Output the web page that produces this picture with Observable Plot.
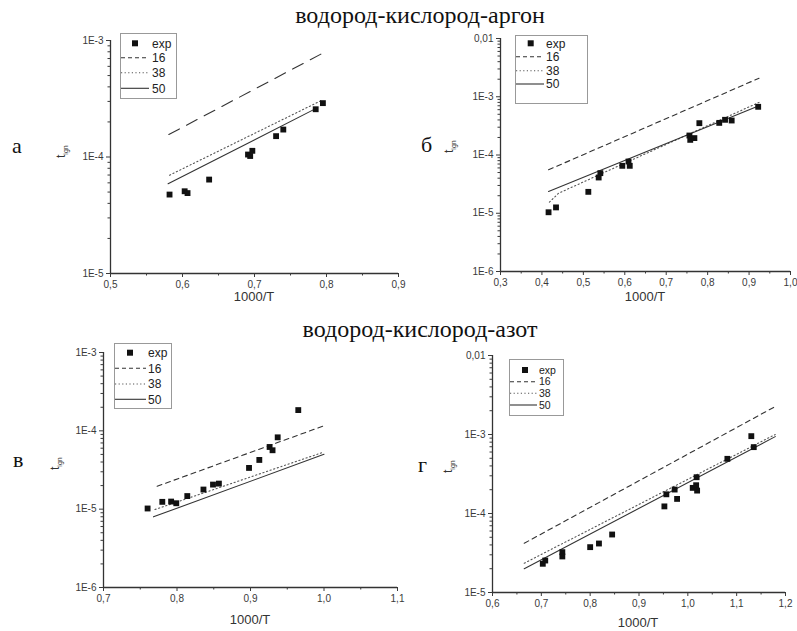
<!DOCTYPE html>
<html><head><meta charset="utf-8">
<script src="https://cdn.jsdelivr.net/npm/d3@7"></script>
<script src="https://cdn.jsdelivr.net/npm/@observablehq/plot@0.6"></script>
<style>
body{margin:0;background:#fff;}
#root{position:relative;width:797px;height:631px;overflow:hidden;background:#fff;}
#root svg{overflow:visible;}
</style>
</head><body>
<div id="root"></div>
<script>
// ---------- Panel а : водород-кислород-аргон ----------
const aExpX = [0.582,0.603,0.607,0.637,0.691,0.694,0.697,0.730,0.740,0.785,0.795];
const aExpY = [4.76e-5,5.08e-5,4.9e-5,6.4e-5,1.05e-4,1.02e-4,1.13e-4,1.51e-4,1.72e-4,2.57e-4,2.9e-4];
const a16X = [0.581,0.795], a16Y = [1.56e-4,7.8e-4];
const a38X = [0.582,0.795], a38Y = [6.98e-5,3.1e-4];
const a50X = [0.580,0.787], a50Y = [5.89e-5,2.64e-4];
const aXTicks = [0.5,0.6,0.7,0.8,0.9], aXLabels = ["0,5","0,6","0,7","0,8","0,9"];
const aYTicks = [1e-5,1e-4,1e-3], aYLabels = ["1E-5","1E-4","1E-3"];

// ---------- Panel б : водород-кислород-аргон ----------
const bExpX = [0.416,0.434,0.512,0.537,0.541,0.594,0.609,0.612,0.756,0.758,0.768,0.780,0.828,0.842,0.858,0.922];
const bExpY = [1.04e-5,1.26e-5,2.33e-5,4.11e-5,4.88e-5,6.52e-5,7.73e-5,6.52e-5,2.16e-4,1.82e-4,1.95e-4,3.52e-4,3.56e-4,4.02e-4,3.91e-4,6.72e-4];
const b16X = [0.416,0.924], b16Y = [5.57e-5,2.08e-3];
const b38X = [0.418,0.44,0.55,0.924], b38Y = [1.55e-5,2.2e-5,5.0e-5,8.0e-4];
const b50X = [0.416,0.924], b50Y = [2.36e-5,7.0e-4];
const bXTicks = [0.3,0.4,0.5,0.6,0.7,0.8,0.9,1.0], bXLabels = ["0,3","0,4","0,5","0,6","0,7","0,8","0,9","1,0"];
const bYTicks = [1e-6,1e-5,1e-4,1e-3,1e-2], bYLabels = ["1E-6","1E-5","1E-4","1E-3","0,01"];

// ---------- Panel в : водород-кислород-азот ----------
const cExpX = [0.760,0.780,0.792,0.799,0.814,0.836,0.849,0.857,0.898,0.912,0.926,0.930,0.937,0.965];
const cExpY = [1.02e-5,1.24e-5,1.25e-5,1.19e-5,1.47e-5,1.78e-5,2.06e-5,2.12e-5,3.36e-5,4.25e-5,6.22e-5,5.65e-5,8.26e-5,1.84e-4];
const c16X = [0.773,1.001], c16Y = [1.96e-5,1.17e-4];
const c38X = [0.770,1.0], c38Y = [9.9e-6,5.37e-5];
const c50X = [0.768,1.0], c50Y = [7.98e-6,5.02e-5];
const cXTicks = [0.7,0.8,0.9,1.0,1.1], cXLabels = ["0,7","0,8","0,9","1,0","1,1"];
const cYTicks = [1e-6,1e-5,1e-4,1e-3], cYLabels = ["1E-6","1E-5","1E-4","1E-3"];

// ---------- Panel г : водород-кислород-азот ----------
const dExpX = [0.703,0.708,0.743,0.743,0.800,0.818,0.845,0.952,0.956,0.973,0.978,1.010,1.017,1.019,1.018,1.081,1.130,1.135];
const dExpY = [2.31e-5,2.54e-5,3.24e-5,2.86e-5,3.75e-5,4.17e-5,5.42e-5,1.23e-4,1.75e-4,2.01e-4,1.53e-4,2.11e-4,2.28e-4,1.95e-4,2.88e-4,4.92e-4,9.53e-4,6.92e-4];
const d16X = [0.665,1.179], d16Y = [4.2e-5,2.26e-3];
const d38X = [0.665,1.179], d38Y = [2.35e-5,1.0e-3];
const d50X = [0.665,1.179], d50Y = [2.0e-5,9.4e-4];
const dXTicks = [0.6,0.7,0.8,0.9,1.0,1.1,1.2], dXLabels = ["0,6","0,7","0,8","0,9","1,0","1,1","1,2"];
const dYTicks = [1e-5,1e-4,1e-3,1e-2], dYLabels = ["1E-5","1E-4","1E-3","0,01"];

const titles = ["водород-кислород-аргон","водород-кислород-азот"];
const panelLetters = ["а","б","в","г"];
const legendLabels = ["exp","16","38","50"];
const xTitle = "1000/T";

const root = document.getElementById("root");
const INK = "#333";
const pts = (xs, ys) => xs.map((x,i) => ({x, y: ys[i]}));

function panel(cfg){
  const ml=60, mr=25, mt=15, mb=40;
  const w = cfg.x1-cfg.x0+ml+mr, h = cfg.yBot-cfg.yTop+mt+mb;
  const xMinor = [];
  for (let i=0;i<cfg.xTicks.length-1;i++) xMinor.push((cfg.xTicks[i]+cfg.xTicks[i+1])/2);
  const yMinor = [];
  for (let i=0;i<cfg.yTicks.length-1;i++) for (let k=2;k<=9;k++) yMinor.push(k*cfg.yTicks[i]);
  const svg = Plot.plot({
    width:w, height:h, marginLeft:ml, marginRight:mr, marginTop:mt, marginBottom:mb,
    style:{fontFamily:"'Liberation Sans', Arial, sans-serif", fontSize:"10px", color:"#3a3a3a", background:"transparent", maxWidth:"none", overflow:"visible"},
    x:{domain:[cfg.xTicks[0], cfg.xTicks[cfg.xTicks.length-1]]},
    y:{type:"log", domain:[cfg.yTicks[0], cfg.yTicks[cfg.yTicks.length-1]]},
    marks:[
      Plot.ruleX([cfg.xTicks[0]], {stroke:INK, strokeWidth:1.3}),
      Plot.ruleY([cfg.yTicks[0]], {stroke:INK, strokeWidth:1.3}),
      Plot.axisX({ticks:cfg.xTicks, tickFormat:d=>cfg.xLabels[cfg.xTicks.indexOf(d)], tickSize:4, tickPadding:3, label:null}),
      Plot.axisX({ticks:xMinor, tickSize:2.5, tickFormat:()=>"", label:null}),
      Plot.axisY({ticks:cfg.yTicks, tickFormat:d=>cfg.yLabels[cfg.yTicks.indexOf(d)], tickSize:4, tickPadding:3, label:null}),
      Plot.axisY({ticks:yMinor, tickSize:2.5, tickFormat:()=>"", label:null}),
      Plot.line(pts(cfg.l16X, cfg.l16Y), {x:"x", y:"y", stroke:INK, strokeWidth:1.1, strokeDasharray:cfg.dash}),
      Plot.line(pts(cfg.l38X, cfg.l38Y), {x:"x", y:"y", stroke:"#555", strokeWidth:1.1, strokeDasharray:"1.2,2.6"}),
      Plot.line(pts(cfg.l50X, cfg.l50Y), {x:"x", y:"y", stroke:INK, strokeWidth:1.1}),
      Plot.dot(pts(cfg.expX, cfg.expY), {x:"x", y:"y", symbol:"square", r:3.3, fill:"#111", stroke:null})
    ]
  });
  svg.style.position = "absolute";
  svg.style.left = (cfg.x0-ml)+"px";
  svg.style.top = (cfg.yTop-mt)+"px";
  root.appendChild(svg);
}

panel({x0:110,x1:398,yTop:40,yBot:273,xTicks:aXTicks,xLabels:aXLabels,yTicks:aYTicks,yLabels:aYLabels,
  expX:aExpX,expY:aExpY,l16X:a16X,l16Y:a16Y,l38X:a38X,l38Y:a38Y,l50X:a50X,l50Y:a50Y,dash:"12,8"});
panel({x0:500,x1:790,yTop:38,yBot:271,xTicks:bXTicks,xLabels:bXLabels,yTicks:bYTicks,yLabels:bYLabels,
  expX:bExpX,expY:bExpY,l16X:b16X,l16Y:b16Y,l38X:b38X,l38Y:b38Y,l50X:b50X,l50Y:b50Y,dash:"5,4"});
panel({x0:103,x1:397,yTop:352,yBot:587,xTicks:cXTicks,xLabels:cXLabels,yTicks:cYTicks,yLabels:cYLabels,
  expX:cExpX,expY:cExpY,l16X:c16X,l16Y:c16Y,l38X:c38X,l38Y:c38Y,l50X:c50X,l50Y:c50Y,dash:"5,4"});
panel({x0:492,x1:785,yTop:355,yBot:592,xTicks:dXTicks,xLabels:dXLabels,yTicks:dYTicks,yLabels:dYLabels,
  expX:dExpX,expY:dExpY,l16X:d16X,l16Y:d16Y,l38X:d38X,l38Y:d38Y,l50X:d50X,l50Y:d50Y,dash:"5,4"});

// ---------- overlay text: titles, letters, axis titles, legends ----------
const ov = d3.select(root).append("svg")
  .attr("width",797).attr("height",631)
  .style("position","absolute").style("left","0px").style("top","0px").style("pointer-events","none");

const serif = "'Liberation Serif','Times New Roman',serif";
const sans = "'Liberation Sans',Arial,sans-serif";
[[420,23],[420,337]].forEach(([x,y],i)=>{
  ov.append("text").attr("x",x).attr("y",y).attr("text-anchor","middle")
    .attr("font-family",serif).attr("font-size",24).attr("fill","#111").text(titles[i]);
});
[[12,153],[421,152],[13,467],[418,472]].forEach(([x,y],i)=>{
  ov.append("text").attr("x",x).attr("y",y).attr("font-family",serif).attr("font-size",22).attr("fill","#111").text(panelLetters[i]);
});
[[254,301],[645,301],[250,624],[638,627]].forEach(([x,y])=>{
  ov.append("text").attr("x",x).attr("y",y).attr("text-anchor","middle")
    .attr("font-family",sans).attr("font-size",13).attr("fill","#333").text(xTitle);
});
[[65,158],[453,153],[59,470],[452,473]].forEach(([x,y])=>{
  const t = ov.append("text").attr("transform",`translate(${x},${y}) rotate(-90)`)
    .attr("font-family",sans).attr("font-size",12).attr("fill","#333");
  t.append("tspan").text("t");
  t.append("tspan").attr("font-size",7).attr("dy",3).text("ign");
});

function legend(L){
  const g = ov.append("g").attr("transform",`translate(${L.x},${L.y})`);
  g.append("rect").attr("x",0.5).attr("y",0.5).attr("width",L.w).attr("height",L.h)
    .attr("fill","white").attr("stroke","#999").attr("stroke-width",1);
  const dashes = [null,"4,3","1.2,2.4",null];
  legendLabels.forEach((lab,i)=>{
    const y = L.rows[i];
    if (i===0) {
      g.append("rect").attr("x",L.mx-3).attr("y",y-3).attr("width",6).attr("height",6).attr("fill","#111");
    } else {
      g.append("line").attr("x1",L.l0).attr("x2",L.l1).attr("y1",y).attr("y2",y)
        .attr("stroke",i===2?"#555":"#333").attr("stroke-width",1.1).attr("stroke-dasharray",dashes[i]);
    }
    g.append("text").attr("x",L.tx).attr("y",y+L.fs*0.36).attr("font-family",sans).attr("font-size",L.fs)
      .attr("fill","#222").text(lab);
  });
}
legend({x:120,y:33,w:56,h:65,rows:[10.3,24.7,39.7,55.3],l0:1,l1:29,mx:15,tx:32,fs:12});
legend({x:515,y:35,w:72,h:68,rows:[8.3,21.7,35.7,49],l0:1,l1:29,mx:15.7,tx:31,fs:12});
legend({x:114,y:343,w:57,h:65,rows:[9.7,25.3,41,56.3],l0:1,l1:32,mx:16,tx:34,fs:12});
legend({x:509,y:359,w:54,h:56,rows:[11,22.7,34.3,46],l0:1,l1:28,mx:16,tx:30,fs:10.5});
</script>
</body></html>
